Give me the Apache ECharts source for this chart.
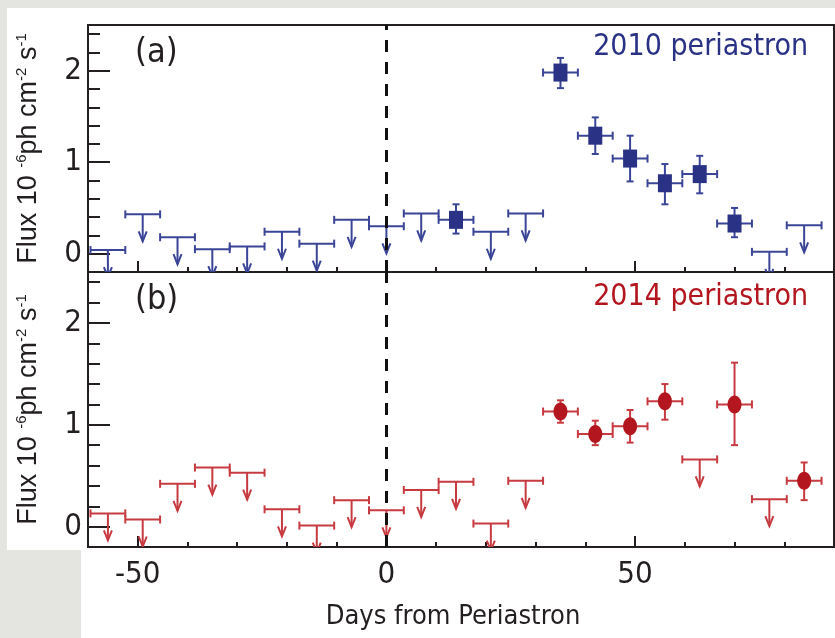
<!DOCTYPE html>
<html lang="en">
<head>
<meta charset="UTF-8">
<title>Flux around periastron</title>
<script src="https://cdn.jsdelivr.net/npm/echarts@6/dist/echarts.min.js"></script>
<style>
  * { margin: 0; padding: 0; }
  body { background: #e4e4e1; }
  #main { width: 835px; height: 638px; }
</style>
</head>
<body>
<div id="main"></div>
<script>
// 2010 periastron: upper limits and detections (days, flux, err+, err-)
var ulDays2010 = [-56, -49, -42, -35, -28, -21, -14, -7, 0, 7, 21, 28, 77, 84];
var ulFlux2010 = [0.04, 0.43, 0.18, 0.05, 0.08, 0.24, 0.11, 0.37, 0.30, 0.44, 0.24, 0.44, 0.02, 0.31];
var detDays2010 = [14, 35, 42, 49, 56, 63, 70];
var detFlux2010 = [0.37, 1.98, 1.29, 1.04, 0.77, 0.87, 0.33];
var errUp2010 = [0.17, 0.16, 0.20, 0.25, 0.21, 0.20, 0.17];
var errLo2010 = [0.15, 0.17, 0.20, 0.25, 0.23, 0.21, 0.15];

// 2014 periastron
var ulDays2014 = [-56, -49, -42, -35, -28, -21, -14, -7, 0, 7, 14, 21, 28, 63, 77];
var ulFlux2014 = [0.13, 0.07, 0.42, 0.58, 0.53, 0.17, 0.01, 0.26, 0.16, 0.36, 0.44, 0.03, 0.45, 0.66, 0.27];
var detDays2014 = [35, 42, 49, 56, 70, 84];
var detFlux2014 = [1.13, 0.91, 0.985, 1.23, 1.20, 0.45];
var errUp2014 = [0.11, 0.13, 0.16, 0.17, 0.41, 0.18];
var errLo2014 = [0.11, 0.11, 0.16, 0.18, 0.40, 0.19];

var binHalf = 3.5; // half width of a time bin, days
var xTicksMajor = [-50, 0, 50];
var xTicksMinor = [-40, -30, -20, -10, 10, 20, 30, 40, 60, 70, 80];
var yTicksMajor = [0, 1, 2];
var yTicksMinor = [0.2, 0.4, 0.6, 0.8, 1.2, 1.4, 1.6, 1.8, 2.2, 2.4];

var BLUE = '#2a3286', BLUE_LINE = '#3b4597';
var RED = '#b3161e', RED_LINE = '#c73a40';
var INK = '#231f20';
var NARROW = "'Liberation Sans Narrow', 'DejaVu Sans Condensed', 'Liberation Sans', sans-serif";

function zip(a, b, c, d) {
    return a.map(function (v, i) {
        return c ? [v, b[i], c[i], d[i]] : [v, b[i]];
    });
}

function capLine(x1, y1, x2, y2, st) {
    return { type: 'line', shape: { x1: x1, y1: y1, x2: x2, y2: y2 }, style: st };
}

// horizontal bin bar with a downward arrow
function ulItem(color) {
    return function (params, api) {
        var x = api.value(0), y = api.value(1);
        var c = api.coord([x, y]);
        var l = api.coord([x - binHalf, y]);
        var r = api.coord([x + binHalf, y]);
        var tip = c[1] + 27;
        var st = { stroke: color, lineWidth: 2, fill: null };
        return {
            type: 'group', children: [
                capLine(l[0], c[1], r[0], c[1], st),
                capLine(l[0], c[1] - 4, l[0], c[1] + 4, st),
                capLine(r[0], c[1] - 4, r[0], c[1] + 4, st),
                capLine(c[0], c[1], c[0], tip, st),
                { type: 'polyline', shape: { points: [[c[0] - 4, tip - 10], [c[0], tip], [c[0] + 4, tip - 10]] }, style: st }
            ]
        };
    };
}

// detection with x/y error bars
function detItem(lineColor, fill, marker) {
    return function (params, api) {
        var x = api.value(0), y = api.value(1);
        var c = api.coord([x, y]);
        var l = api.coord([x - binHalf, y]);
        var r = api.coord([x + binHalf, y]);
        var t = api.coord([x, y + api.value(2)]);
        var b = api.coord([x, y - api.value(3)]);
        var st = { stroke: lineColor, lineWidth: 2, fill: null };
        var mk = marker === 'square'
            ? { type: 'rect', shape: { x: c[0] - 7, y: c[1] - 9, width: 14, height: 18 }, style: { fill: fill } }
            : { type: 'ellipse', shape: { cx: c[0], cy: c[1], rx: 7, ry: 9 }, style: { fill: fill } };
        return {
            type: 'group', children: [
                capLine(l[0], c[1], r[0], c[1], st),
                capLine(l[0], c[1] - 4, l[0], c[1] + 4, st),
                capLine(r[0], c[1] - 4, r[0], c[1] + 4, st),
                capLine(c[0], t[1], c[0], b[1], st),
                capLine(c[0] - 3.5, t[1], c[0] + 3.5, t[1], st),
                capLine(c[0] - 3.5, b[1], c[0] + 3.5, b[1], st),
                mk
            ]
        };
    };
}

function xAxes(grid, labels, major) {
    return {
        gridIndex: grid, type: 'value', position: 'bottom', min: -60, max: 90,
        axisLine: { show: false, onZero: false },
        splitLine: { show: false },
        axisTick: {
            inside: true, length: major ? 11 : 5,
            customValues: major ? xTicksMajor : xTicksMinor,
            lineStyle: { color: INK, width: 2 }
        },
        axisLabel: {
            show: labels, customValues: xTicksMajor, margin: 12,
            fontSize: 31, fontFamily: NARROW, color: INK
        }
    };
}

function yAxes(grid, major) {
    var ax = {
        gridIndex: grid, type: 'value', position: 'left', min: -0.2, max: 2.5,
        axisLine: { show: false, onZero: false },
        splitLine: { show: false },
        axisTick: {
            inside: true, length: major ? 22 : 12,
            customValues: major ? yTicksMajor : yTicksMinor,
            lineStyle: { color: INK, width: 2 }
        },
        axisLabel: {
            show: major, customValues: yTicksMajor, margin: 6,
            padding: [12, 0, 0, 0],
            fontSize: 31, fontFamily: NARROW, color: INK
        }
    };
    if (major) {
        ax.name = '{a|Flux 10 }{s|-6}{a|ph cm}{s|-2}{a| s}{s|-1}';
        ax.nameLocation = 'middle';
        ax.nameGap = 44;
        ax.nameRotate = 90;
        ax.nameTextStyle = {
            rich: {
                a: { fontSize: 27, fontFamily: "'Liberation Sans', sans-serif", color: INK, lineHeight: 30 },
                s: { fontSize: 15, fontFamily: "'Liberation Sans', sans-serif", color: INK, lineHeight: 30, verticalAlign: 'top' }
            }
        };
    }
    return ax;
}

var periLine = {
    silent: true, symbol: ['none', 'none'], label: { show: false },
    lineStyle: { color: '#111', width: 3, type: [12, 10] },
    data: [{ xAxis: 0 }]
};

var chart = echarts.init(document.getElementById('main'));
chart.setOption({
    backgroundColor: '#e4e4e1',
    animation: false,
    graphic: [
        { type: 'rect', z: -10, shape: { x: 7, y: 8, width: 828, height: 542 }, style: { fill: '#fff' } },
        { type: 'rect', z: -10, shape: { x: 81, y: 8, width: 754, height: 630 }, style: { fill: '#fff' } },
        { type: 'text', x: 135, y: 53, style: { text: '(a)', font: '34px ' + NARROW, fill: INK, verticalAlign: 'middle' } },
        { type: 'text', x: 135, y: 300, style: { text: '(b)', font: '34px ' + NARROW, fill: INK, verticalAlign: 'middle' } },
        { type: 'text', x: 808, y: 47, style: { text: '2010 periastron', font: '30px ' + NARROW, fill: BLUE, align: 'right', verticalAlign: 'middle' } },
        { type: 'text', x: 808, y: 297, style: { text: '2014 periastron', font: '30px ' + NARROW, fill: RED, align: 'right', verticalAlign: 'middle' } }
    ],
    grid: [
        { left: 88, top: 25, width: 746, height: 247, show: true, borderColor: INK, borderWidth: 2, backgroundColor: '#fff' },
        { left: 88, top: 272, width: 746, height: 275, show: true, borderColor: INK, borderWidth: 2, backgroundColor: '#fff' }
    ],
    xAxis: [
        xAxes(0, false, true),
        xAxes(0, false, false),
        Object.assign(xAxes(1, true, true), {
            name: 'Days from Periastron', nameLocation: 'middle', nameGap: 56,
            nameTextStyle: { fontSize: 27, fontFamily: NARROW, color: INK, padding: [0, 16, 0, 0] }
        }),
        xAxes(1, false, false)
    ],
    yAxis: [yAxes(0, true), yAxes(0, false), yAxes(1, true), yAxes(1, false)],
    series: [
        {
            type: 'custom', xAxisIndex: 0, yAxisIndex: 0, clip: true,
            data: zip(ulDays2010, ulFlux2010), encode: { x: 0, y: 1 },
            renderItem: ulItem(BLUE_LINE), markLine: periLine
        },
        {
            type: 'custom', xAxisIndex: 0, yAxisIndex: 0, clip: true,
            data: zip(detDays2010, detFlux2010, errUp2010, errLo2010), encode: { x: 0, y: 1 },
            renderItem: detItem(BLUE_LINE, BLUE, 'square')
        },
        {
            type: 'custom', xAxisIndex: 2, yAxisIndex: 2, clip: true,
            data: zip(ulDays2014, ulFlux2014), encode: { x: 0, y: 1 },
            renderItem: ulItem(RED_LINE), markLine: periLine
        },
        {
            type: 'custom', xAxisIndex: 2, yAxisIndex: 2, clip: true,
            data: zip(detDays2014, detFlux2014, errUp2014, errLo2014), encode: { x: 0, y: 1 },
            renderItem: detItem(RED_LINE, RED, 'circle')
        }
    ]
});
</script>
</body>
</html>
